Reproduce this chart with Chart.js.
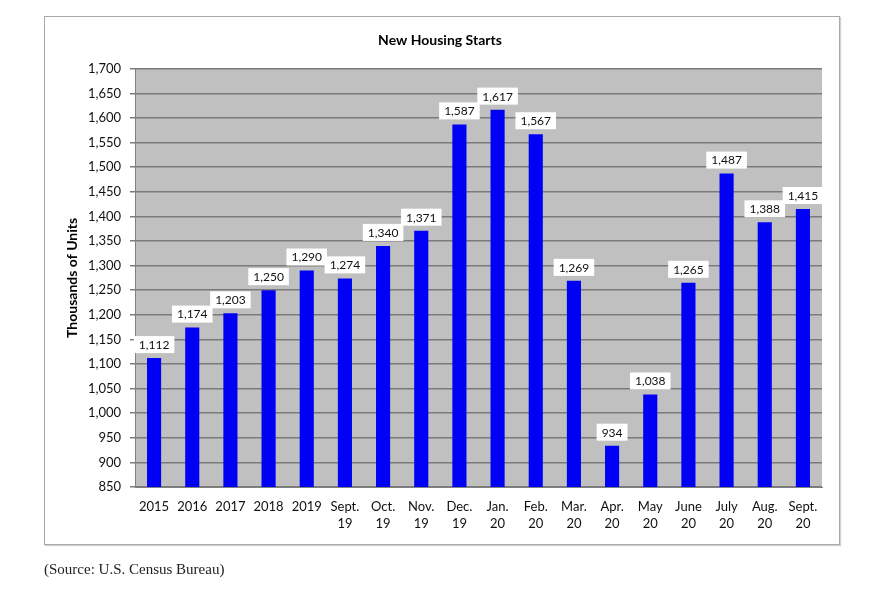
<!DOCTYPE html>
<html>
<head>
<meta charset="utf-8">
<script src="https://cdn.jsdelivr.net/npm/chart.js@4.4.0/dist/chart.umd.min.js"></script>
<style>
  html, body { margin: 0; padding: 0; background: #fff; }
  #frame {
    position: absolute; left: 44px; top: 16px; width: 794px; height: 527px;
    border: 1.5px solid #a8a8a8; box-shadow: 1px 1px 1px #d0d0d0;
  }
  #wrap { position: absolute; left: 0; top: 0; width: 880px; height: 596px; }
  #source {
    position: absolute; left: 44px; top: 561px;
    font-family: "Liberation Serif", "DejaVu Serif", serif; font-size: 15px; color: #222;
  }
</style>
</head>
<body>
<div id="frame"></div>
<div id="wrap"><canvas id="chart" width="880" height="596"></canvas></div>
<div id="source">(Source: U.S. Census Bureau)</div>
<script>
// ---- data ----
const categories = [
  ['2015'], ['2016'], ['2017'], ['2018'], ['2019'],
  ['Sept.', '19'], ['Oct.', '19'], ['Nov.', '19'], ['Dec.', '19'],
  ['Jan.', '20'], ['Feb.', '20'], ['Mar.', '20'], ['Apr.', '20'],
  ['May', '20'], ['June', '20'], ['July', '20'], ['Aug.', '20'], ['Sept.', '20']
];
const starts = [1112, 1174, 1203, 1250, 1290, 1274, 1340, 1371, 1587,
                1617, 1567, 1269, 934, 1038, 1265, 1487, 1388, 1415];
const yMin = 850, yMax = 1700, yStep = 50;

const FONT = 'Lato, "Open Sans", "Liberation Sans", sans-serif';
const fmt = v => v.toLocaleString('en-US');

// gray plot background
const plotBg = {
  id: 'plotBg',
  beforeDraw(chart) {
    const { ctx, chartArea: a } = chart;
    ctx.save();
    ctx.fillStyle = '#c0c0c0';
    ctx.fillRect(a.left, a.top, a.right - a.left, a.bottom - a.top);
    ctx.restore();
  }
};

// white boxed value labels above bars
const valueLabels = {
  id: 'valueLabels',
  afterDatasetsDraw(chart) {
    const { ctx } = chart;
    const meta = chart.getDatasetMeta(0);
    ctx.save();
    ctx.font = '12px ' + FONT;
    ctx.textAlign = 'center';
    ctx.textBaseline = 'middle';
    meta.data.forEach((bar, i) => {
      const txt = fmt(starts[i]);
      const w = ctx.measureText(txt).width + 10;
      const h = 17;
      const cy = bar.y - 13.5;
      ctx.fillStyle = '#fff';
      ctx.fillRect(bar.x - w / 2, cy - h / 2, w, h);
      ctx.fillStyle = '#111';
      ctx.fillText(txt, bar.x, cy + 0.5);
    });
    ctx.restore();
  }
};

new Chart(document.getElementById('chart'), {
  type: 'bar',
  data: {
    labels: categories,
    datasets: [{
      data: starts,
      backgroundColor: '#0000f5',
      barPercentage: 0.37,
      categoryPercentage: 1
    }]
  },
  options: {
    responsive: false,
    animation: false,
    layout: { padding: { left: 58, right: 58, top: 0, bottom: 59 } },
    plugins: {
      legend: { display: false },
      tooltip: { enabled: false },
      title: {
        display: true,
        text: 'New Housing Starts',
        color: '#000',
        font: { family: FONT, size: 14, weight: 'bold' },
        padding: { top: 32, bottom: 20 }
      }
    },
    scales: {
      x: {
        grid: { display: false, drawTicks: false },
        border: { display: true, color: '#808080', width: 1 },
        ticks: {
          color: '#111', font: { family: FONT, size: 13, lineHeight: 1.25 },
          padding: 12, maxRotation: 0, autoSkip: false
        },
        afterFit(s) { s.height = 50; }
      },
      y: {
        min: yMin, max: yMax,
        grid: { color: '#7a7a7a', lineWidth: 1.5, tickLength: 5, drawTicks: true },
        border: { display: true, color: '#808080', width: 1 },
        ticks: {
          stepSize: yStep, padding: 9, color: '#111',
          font: { family: FONT, size: 13 },
          callback: v => fmt(v)
        },
        title: {
          display: true, text: 'Thousands of Units', color: '#000',
          font: { family: FONT, size: 14, weight: 'bold' },
          padding: { top: 6, bottom: 0 }
        },
        afterFit(s) { s.width = 77; }
      }
    }
  },
  plugins: [plotBg, valueLabels]
});
</script>
</body>
</html>
